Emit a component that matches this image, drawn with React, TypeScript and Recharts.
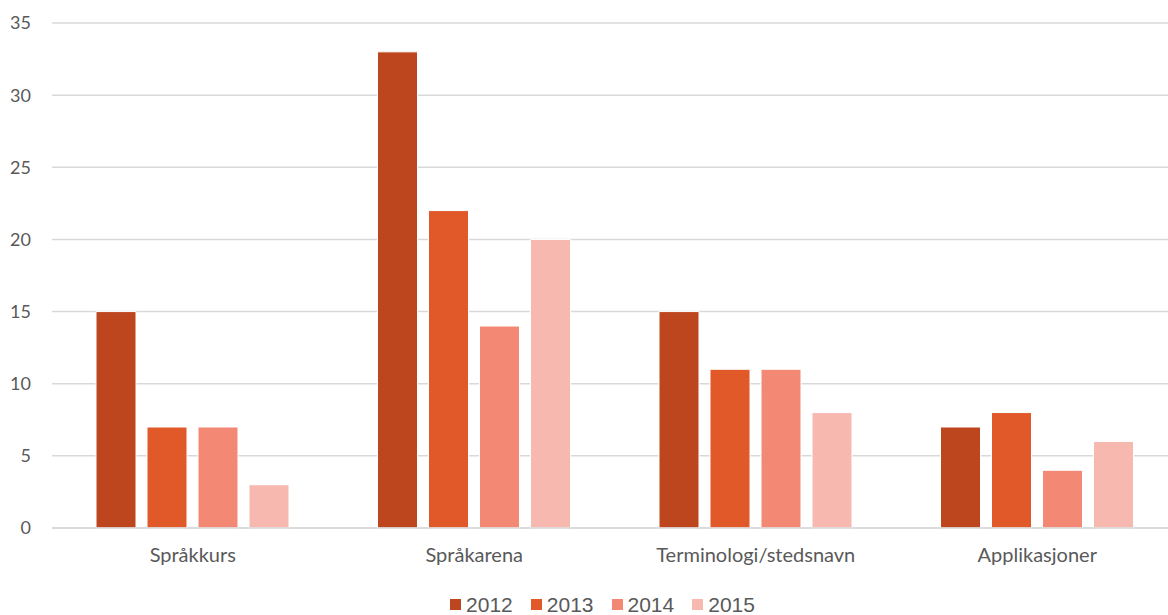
import React from 'react'
import { BarChart, Bar, XAxis, YAxis, CartesianGrid, Legend } from 'recharts'

const categories = ['Språkkurs', 'Språkarena', 'Terminologi/stedsnavn', 'Applikasjoner']
const years = ['2012', '2013', '2014', '2015']
const values2012 = [15, 33, 15, 7]
const values2013 = [7, 22, 11, 8]
const values2014 = [7, 14, 11, 4]
const values2015 = [3, 20, 8, 6]
const yTicks = [0, 5, 10, 15, 20, 25, 30, 35]

const colors = ['#BE461F', '#E15829', '#F38974', '#F7B9AF']
const seriesValues = [values2012, values2013, values2014, values2015]

const data = categories.map((name, i) => {
  const row: Record<string, string | number> = { name }
  years.forEach((y, s) => {
    row[y] = seriesValues[s][i]
  })
  return row
})

const textColor = '#595959'

function LegendContent() {
  return (
    <div
      style={{
        display: 'flex',
        justifyContent: 'center',
        gap: 18,
        fontFamily: '"Liberation Sans", Arial, sans-serif',
        fontSize: 21,
        lineHeight: '21px',
        color: textColor,
        paddingLeft: 37,
        paddingTop: 14,
        height: 35,
        boxSizing: 'border-box',
      }}
    >
      {years.map((y, i) => (
        <span key={y} style={{ display: 'flex', alignItems: 'center', gap: 5 }}>
          <span style={{ width: 11, height: 11, background: colors[i], display: 'inline-block' }} />
          {y}
        </span>
      ))}
    </div>
  )
}

export default function App() {
  return (
    <div style={{ position: 'absolute', left: 0, top: 0, width: 1168, height: 615, background: '#fff', overflow: 'hidden' }}>
      <BarChart
        width={1168}
        height={615}
        data={data}
        margin={{ top: 23, right: -10, left: 0, bottom: 0 }}
        barCategoryGap={44}
        barGap={11}
      >
        <CartesianGrid vertical={false} stroke="#d9d9d9" strokeWidth={1.5} />
        <XAxis
          dataKey="name"
          axisLine={{ stroke: '#d9d9d9', strokeWidth: 1.5 }}
          tickLine={false}
          tickSize={0}
          tickMargin={20}
          height={52}
          interval={0}
          tick={{ fill: textColor, fontSize: 20, fontFamily: 'Lato, "Open Sans", sans-serif' }}
        />
        <YAxis
          width={52}
          domain={[0, 35]}
          ticks={yTicks}
          axisLine={false}
          tickLine={false}
          tickSize={0}
          tickMargin={21}
          tick={{ fill: textColor, fontSize: 18, fontFamily: 'Lato, "Open Sans", sans-serif' }}
        />
        <Legend
          verticalAlign="bottom"
          height={35}
          content={<LegendContent />}
          wrapperStyle={{ left: 0, width: 1168, bottom: 0 }}
        />
        {years.map((y, i) => (
          <Bar key={y} dataKey={y} fill={colors[i]} stroke="#fff" strokeWidth={1} isAnimationActive={false} />
        ))}
      </BarChart>
    </div>
  )
}
